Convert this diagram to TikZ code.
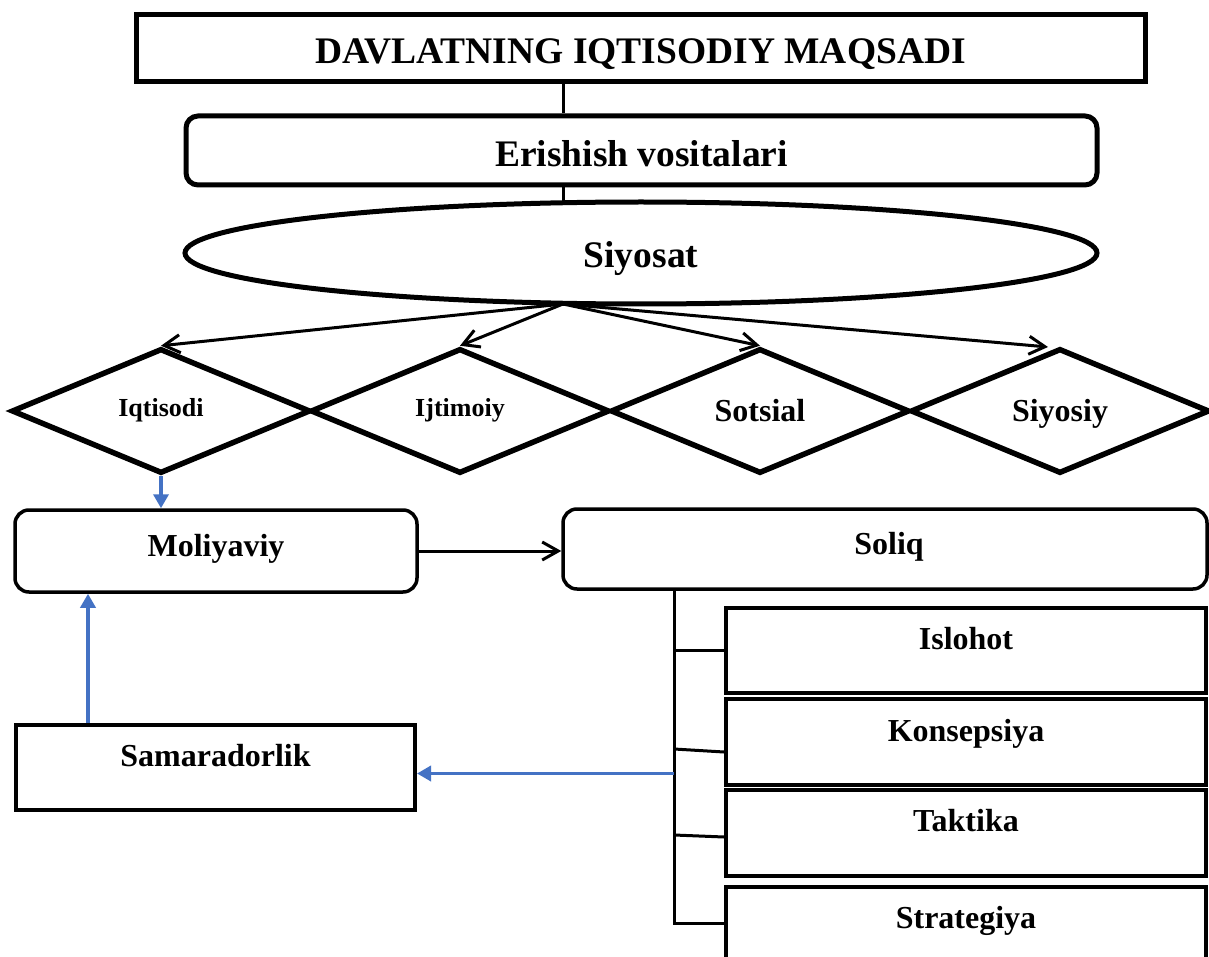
\documentclass[tikz,border=0pt]{standalone}
\usepackage{fontspec}
\setmainfont{Liberation Serif}
\usetikzlibrary{shapes.geometric,arrows.meta,calc}
\definecolor{blu}{HTML}{4472C4}
\begin{document}
\begin{tikzpicture}[x=1pt,y=-1pt,
  big/.style={font=\fontsize{37.5}{42}\selectfont\bfseries, text height=36pt, text depth=6pt},
  mid/.style={font=\fontsize{32}{36}\selectfont\bfseries, text height=25pt, text depth=3.8pt},
  small/.style={font=\fontsize{26}{30}\selectfont\bfseries, text height=14pt, text depth=3.8pt},
  boxr/.style={draw, inner sep=0pt, line width=4pt},
  rbox/.style={draw, inner sep=0pt, rounded corners=14pt, line width=3.5pt},
  dia/.style={diamond, draw, inner sep=0pt, line width=5.5pt, minimum width=299pt, minimum height=125pt, small},
  barb/.style={line width=3pt, -{Straight Barb[length=16pt,width=18pt,line width=3pt]}},
  conn/.style={line width=3pt},
  bluearr/.style={blu, line width=3.5pt, -{Triangle[length=14pt,width=15pt]}}
]
\clip (0,0) rectangle (1209,957);
\fill[white] (0,0) rectangle (1209,957);

\node[draw, line width=5pt, inner sep=0pt, minimum width=1009pt, minimum height=67pt, big] (title) at (640.5,48.5) {DAVLATNING IQTISODIY MAQSADI};
\node[draw, line width=5pt, inner sep=0pt, rounded corners=12pt, minimum width=911pt, minimum height=69pt, big, text height=38pt] (eri) at (641.5,150.5) {Erishish vositalari};
\node[ellipse, draw, line width=5pt, inner sep=0pt, minimum width=912pt, minimum height=102pt, big] (siy) at (641,253) {Siyosat};

\node[dia] (d1) at (161,411) {Iqtisodi};
\node[dia] (d2) at (460,411) {Ijtimoiy};
\node[dia, mid] (d3) at (760,411) {Sotsial};
\node[dia, mid] (d4) at (1060,411) {Siyosiy};

\node[rbox, minimum width=402pt, minimum height=82pt, mid, text height=15pt] (mol) at (216,551) {Moliyaviy};
\node[rbox, minimum width=644pt, minimum height=80pt, mid, text height=15pt] (sol) at (885,549) {\hspace*{8pt}Soliq};
\node[boxr, minimum width=399pt, minimum height=85pt, label={[mid, yshift=11.5pt]center:Samaradorlik}] (sam) at (215.5,767.5) {};

\node[boxr, minimum width=480pt, minimum height=85pt, label={[mid, yshift=12pt]center:Islohot}] (isl) at (966,650.5) {};
\node[boxr, minimum width=480pt, minimum height=86pt, label={[mid, yshift=11pt]center:Konsepsiya}] (kon) at (966,742) {};
\node[boxr, minimum width=480pt, minimum height=86pt, label={[mid, yshift=12pt]center:Taktika}] (tak) at (966,833) {};
\node[boxr, minimum width=480pt, minimum height=88pt, label={[mid, yshift=13pt]center:Strategiya}] (str) at (966,931) {};

% top connectors
\coordinate (vx) at (563,0);
\coordinate (etop) at (563,204);
\coordinate (src) at (563,304);
\draw[conn] (title.south -| vx) -- (eri.north -| vx);
\draw[conn] (eri.south -| vx) -- (etop);

% arrows to diamonds
\coordinate (t4) at (1048,347);
\draw[barb] (src) -- (d1.north);
\draw[barb] (src) -- (d2.north);
\draw[barb] (src) -- (d3.north);
\draw[barb] (src) -- (t4);

% diamond to Moliyaviy
\draw[bluearr] (d1.south) -- (d1.south |- mol.north);
% Moliyaviy to Soliq
\draw[barb] (mol.east) -- (mol.east -| sol.west);

% right tree
\coordinate (tx) at (674,0);
\coordinate (sbend) at ($(str.west)+(0,-8)$);
\draw[conn, line join=miter] (sol.south -| tx) -- (sbend -| tx) -- (sbend);
\draw[conn] (isl.west -| tx) -- (isl.west);
\draw[conn] ($(kon.west -| tx)+(0,7)$) -- ($(kon.west)+(0,10)$);
\draw[conn] ($(tak.west -| tx)+(0,2)$) -- ($(tak.west)+(0,4)$);

% blue feedback arrows
\coordinate (bstart) at ($(sam.east -| tx)+(0,6)$);
\draw[bluearr] (bstart) -- ($(sam.east)+(0,6)$);
\coordinate (bx) at (88,0);
\draw[bluearr] (sam.north -| bx) -- (mol.south -| bx);
\end{tikzpicture}
\end{document}
